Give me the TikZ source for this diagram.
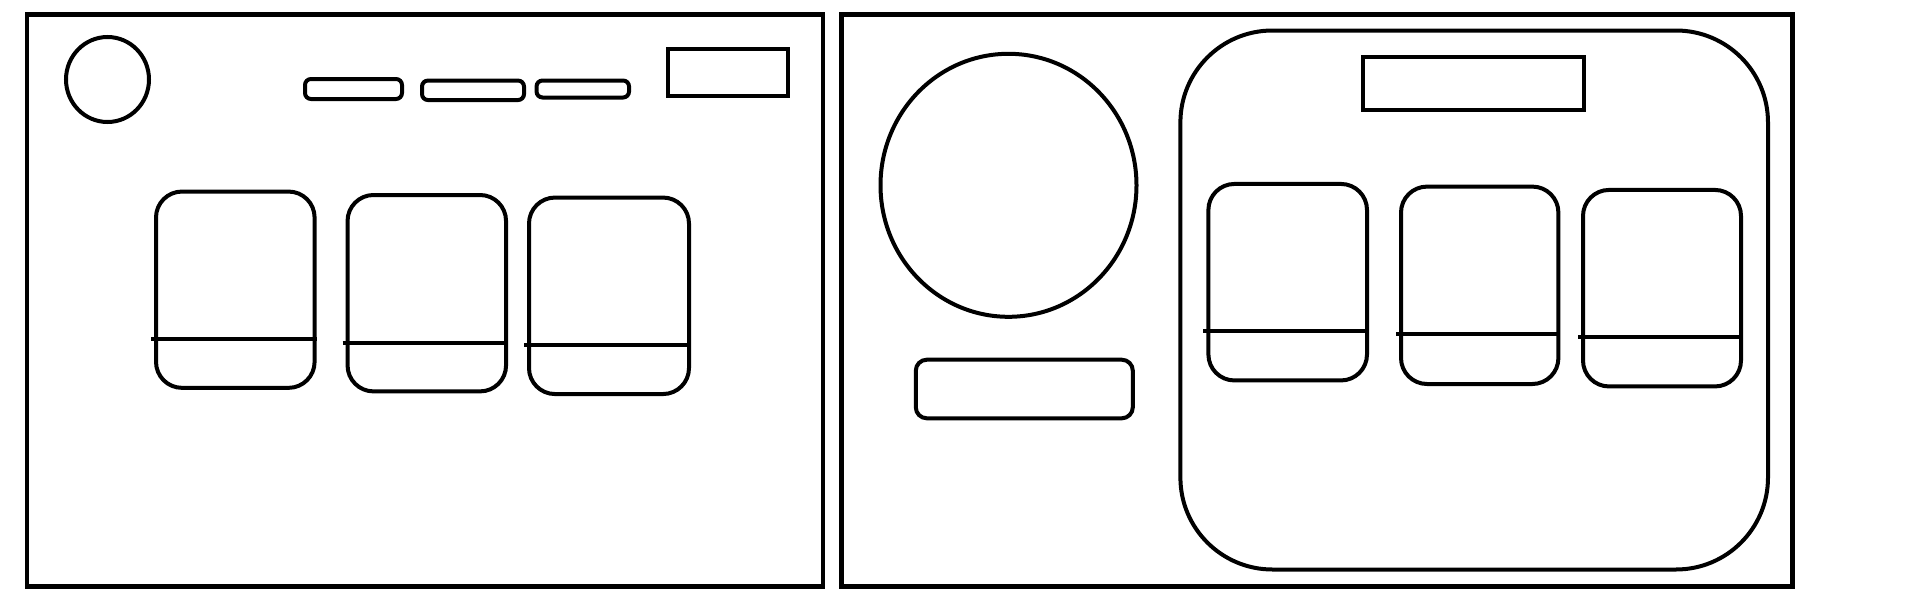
\documentclass[tikz,border=0pt]{standalone}
\usetikzlibrary{shapes.geometric}
\begin{document}
\begin{tikzpicture}[x=1pt,y=-1pt,
  panel/.style={draw,line width=4.8pt,rectangle,inner sep=0pt},
  wfshape/.style={draw,line width=4pt,inner sep=0pt},
  card/.style={wfshape,rectangle,rounded corners=26pt},
  pill/.style={wfshape,rectangle,rounded corners=6pt},
  wfbox/.style={wfshape,rectangle},
  oval/.style={wfshape,ellipse},
  divider/.style={line width=4pt,line cap=butt}]
\useasboundingbox (0,0) rectangle (1912,605);
% panels
\node[panel,minimum width=796pt,minimum height=572pt] (leftpanel) at (425,300.5) {};
\node[panel,minimum width=951pt,minimum height=572pt] (rightpanel) at (1317,300.5) {};
% left panel contents
\node[oval,minimum width=83pt,minimum height=85pt] (logo) at (107.5,79.5) {};
\node[pill,minimum width=97pt,minimum height=20pt] (nav1) at (353.5,89) {};
\node[pill,minimum width=102pt,minimum height=19.5pt] (nav2) at (473,90.3) {};
\node[pill,minimum width=92.5pt,minimum height=17pt] (nav3) at (582.8,89) {};
\node[wfbox,minimum width=120pt,minimum height=47pt] (search) at (728,72.5) {};
\node[card,minimum width=158.6pt,minimum height=196.3pt] (lc1) at (235.3,289.7) {};
\node[card,minimum width=158.5pt,minimum height=196.4pt] (lc2) at (426.8,293.2) {};
\node[card,minimum width=160pt,minimum height=196.5pt] (lc3) at (609,295.8) {};
\draw[divider] ([xshift=-3pt]lc1.west |- 0,339) -- (lc1.east |- 0,339);
\draw[divider] ([xshift=-3pt]lc2.west |- 0,342.7) -- (lc2.east |- 0,342.7);
\draw[divider] ([xshift=-3pt]lc3.west |- 0,345) -- (lc3.east |- 0,345);
% right panel contents
\node[oval,minimum width=256pt,minimum height=263pt] (hero) at (1008.5,185.3) {};
\node[pill,rounded corners=11pt,minimum width=217pt,minimum height=58.6pt] (button) at (1024.3,389) {};
\node[card,rounded corners=92pt,minimum width=587.6pt,minimum height=539pt] (container) at (1474.2,300) {};
\node[wfbox,minimum width=221pt,minimum height=52.4pt] (title) at (1473.5,83.5) {};
\node[card,minimum width=158.6pt,minimum height=196.5pt] (rc1) at (1287.7,282.2) {};
\node[card,minimum width=157.4pt,minimum height=197.4pt] (rc2) at (1479.7,285.3) {};
\node[card,minimum width=158pt,minimum height=196.5pt] (rc3) at (1662,288.2) {};
\draw[divider] ([xshift=-3pt]rc1.west |- 0,330.5) -- (rc1.east |- 0,330.5);
\draw[divider] ([xshift=-3pt]rc2.west |- 0,334) -- (rc2.east |- 0,334);
\draw[divider] ([xshift=-3pt]rc3.west |- 0,336.5) -- (rc3.east |- 0,336.5);
\end{tikzpicture}
\end{document}
